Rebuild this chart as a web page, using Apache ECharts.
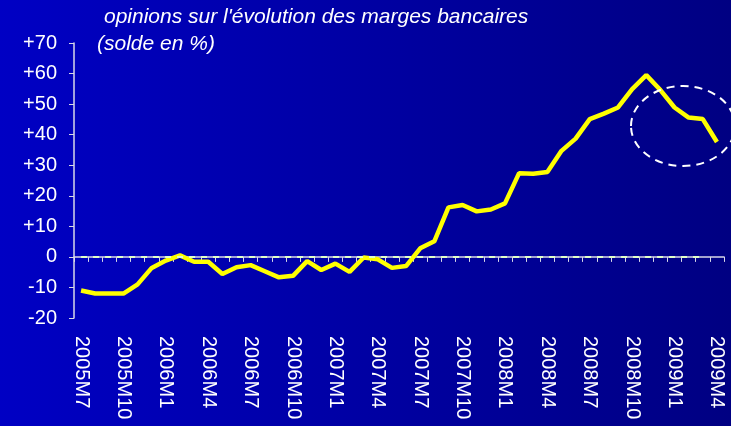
<!DOCTYPE html>
<html>
<head>
<meta charset="utf-8">
<style>
  html, body { margin: 0; padding: 0; }
  #chart { width: 731px; height: 426px; }
</style>
<script src="https://cdn.jsdelivr.net/npm/echarts@6/dist/echarts.min.js"></script>
</head>
<body>
<div id="chart"></div>
<script>
// months 2005M7 .. 2009M4
const months = [
  "2005M7", "2005M8", "2005M9", "2005M10", "2005M11", "2005M12",
  "2006M1", "2006M2", "2006M3", "2006M4", "2006M5", "2006M6",
  "2006M7", "2006M8", "2006M9", "2006M10", "2006M11", "2006M12",
  "2007M1", "2007M2", "2007M3", "2007M4", "2007M5", "2007M6",
  "2007M7", "2007M8", "2007M9", "2007M10", "2007M11", "2007M12",
  "2008M1", "2008M2", "2008M3", "2008M4", "2008M5", "2008M6",
  "2008M7", "2008M8", "2008M9", "2008M10", "2008M11", "2008M12",
  "2009M1", "2009M2", "2009M3", "2009M4"
];
// solde d'opinions (%)
const solde = [
  -11, -12, -12, -12, -9, -3.6,
  -1.2, 0.5, -1.6, -1.6, -5.6, -3.4,
  -2.7, -4.7, -6.7, -6.2, -1.4, -4.3,
  -2.2, -4.9, -0.2, -0.8, -3.6, -3,
  2.8, 5.1, 16.2, 17, 14.9, 15.5,
  17.5, 27.4, 27.2, 27.8, 34.7, 38.7,
  45.1, 46.9, 48.9, 54.9, 59.5, 54.6,
  48.9, 45.6, 45.1, 37.6
];
const yTicks = { min: -20, max: 70, interval: 10 };

const titleLine1 = "opinions sur l'évolution des marges bancaires";
const titleLine2 = "(solde en %)";

const chart = echarts.init(document.getElementById("chart"));

const titleStyle = {
  color: "#ffffff",
  fontFamily: "Liberation Sans",
  fontStyle: "italic",
  fontWeight: "normal",
  fontSize: 21
};

const option = {
  backgroundColor: {
    type: "linear", x: 0, y: 0, x2: 1, y2: 0,
    colorStops: [
      { offset: 0, color: "#0000c4" },
      { offset: 1, color: "#000082" }
    ]
  },
  animation: false,
  title: [
    { text: titleLine1, left: 99, top: 2, textStyle: titleStyle },
    { text: titleLine2, left: 92, top: 29, textStyle: titleStyle }
  ],
  grid: { left: 74, right: 7, top: 43, bottom: 108 },
  xAxis: {
    type: "category",
    data: months,
    boundaryGap: true,
    axisLine: { lineStyle: { color: "#d8d8e8", width: 1.5 } },
    axisTick: { show: true, interval: 0, length: 5, inside: false, lineStyle: { color: "#d8d8e8" } },
    axisLabel: {
      interval: 2,
      rotate: -90,
      color: "#ffffff",
      fontFamily: "Liberation Sans",
      fontSize: 20,
      margin: 18
    },
    splitLine: { show: false }
  },
  yAxis: {
    type: "value",
    min: yTicks.min,
    max: yTicks.max,
    interval: yTicks.interval,
    axisLine: { show: true, lineStyle: { color: "#d8d8e8", width: 1.5 } },
    axisTick: { show: true, length: 5, lineStyle: { color: "#d8d8e8" } },
    axisLabel: {
      color: "#ffffff",
      fontFamily: "Liberation Sans",
      fontSize: 20,
      margin: 17,
      formatter: v => (v > 0 ? "+" + v : String(v))
    },
    splitLine: { show: false }
  },
  series: [
    {
      type: "line",
      data: solde,
      symbol: "none",
      lineStyle: { color: "#ffff00", width: 4.5 },
      markLine: {
        silent: true,
        symbol: "none",
        label: { show: false },
        lineStyle: { color: "#e0ffc8", type: [6, 6], width: 2 },
        data: [[{ coord: [months[0], 0] }, { coord: [months[44], 0] }]]
      }
    }
  ],
  graphic: [
    {
      type: "ellipse",
      shape: { cx: 683, cy: 126, rx: 52, ry: 40 },
      style: { fill: "none", stroke: "#ffffff", lineWidth: 2, lineDash: [8, 6] },
      z: 10
    }
  ]
};

chart.setOption(option);
</script>
</body>
</html>
